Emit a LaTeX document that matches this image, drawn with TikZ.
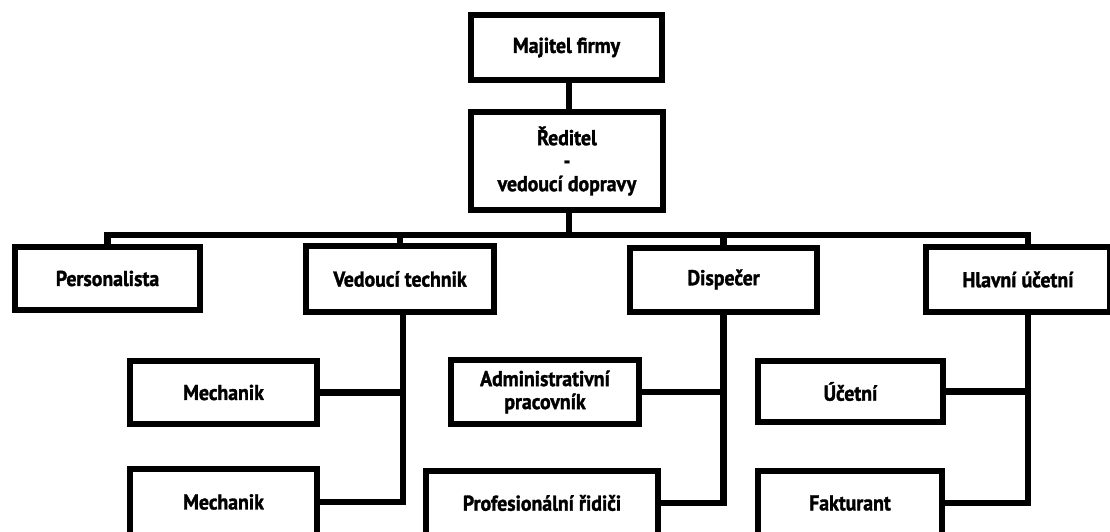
\documentclass[tikz,border=0pt]{standalone}
\usepackage{fontspec}
\setmainfont{PT Sans}[FakeStretch=0.92,BoldFeatures={FakeStretch=0.92,FakeBold=1.5}]
\begin{document}
\begin{tikzpicture}[x=1pt,y=-1pt,
  box/.style={draw=black,line width=6pt,fill=white,inner sep=0pt,align=center,
    font=\bfseries\fontsize{21.5}{23}\selectfont},
  wire/.style={draw=black,line width=6.5pt,line join=miter,line cap=rect}]
\useasboundingbox (0,0) rectangle (1110,532);
\clip (0,0) rectangle (1110,532);
\fill[white] (0,0) rectangle (1110,532);

% horizontal bus level and vertical trunk positions
\coordinate (busR) at (1028,235);
\coordinate (ownerS) at (569,83);
\coordinate (dirS) at (569,212);
\coordinate (vtT) at (403,320);

% boxes
\node[box,minimum width=191pt,minimum height=65pt] (owner) at (566.5,47.5) {Majitel firmy};
\node[box,minimum width=192pt,minimum height=98pt] (dir) at (567,161) {Ředitel\\-\\vedoucí dopravy};

\node[box,minimum width=185pt,minimum height=63pt] (pers) at (107.5,278.5) {Personalista};
\node[box,minimum width=188pt,minimum height=66pt] (vt) at (400,279) {Vedoucí technik};
\node[box,minimum width=187pt,minimum height=64pt] (disp) at (723.5,279.5) {Dispečer};
\node[box,minimum width=184pt,minimum height=65pt] (hu) at (1018,279.5) {Hlavní účetní};

\node[box,minimum width=187pt,minimum height=63pt] (mech1) at (223.5,392.5) {Mechanik};
\node[box,minimum width=187pt,minimum height=66pt] (mech2) at (223.5,502) {Mechanik};
\node[box,minimum width=188pt,minimum height=64pt] (admin) at (545,392) {Administrativní\\pracovník};
\node[box,minimum width=232pt,minimum height=64pt] (prof) at (542,503) {Profesionální řidiči};
\node[box,minimum width=185pt,minimum height=61pt] (uc) at (850.5,391.5) {Účetní};
\node[box,minimum width=184pt,minimum height=64pt] (fakt) at (850,503) {Fakturant};

% connectors
\path[wire] (owner.south -| ownerS) -- (dir.north -| ownerS);
\path[wire] (dir.south -| dirS) -- (dirS |- busR);
\path[wire] (pers.north) |- (busR) -- (busR |- hu.north);
\path[wire] (vt.north) -- (vt.north |- busR);
\path[wire] (disp.north) -- (disp.north |- busR);

\path[wire] (vt.south -| vtT) |- (mech2.east);
\path[wire] (mech1.east) -- (mech1.east -| vtT);
\path[wire] (disp.south) |- (prof.east);
\path[wire] (admin.east) -- (admin.east -| disp.south);
\path[wire] (busR |- hu.south) |- (fakt.east);
\path[wire] (uc.east) -- (uc.east -| busR);
\end{tikzpicture}
\end{document}
